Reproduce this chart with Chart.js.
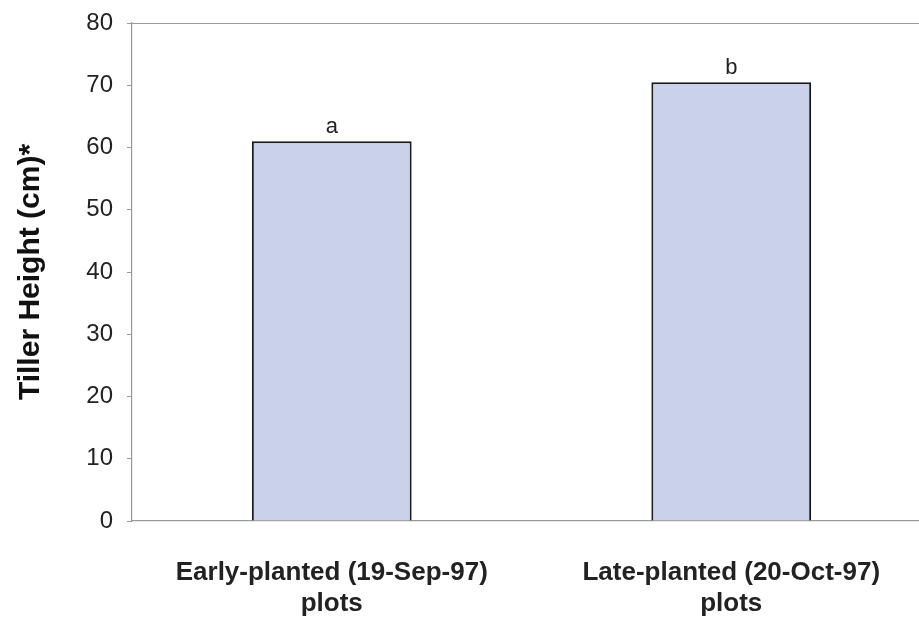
<!DOCTYPE html>
<html>
<head>
<meta charset="utf-8">
<script src="https://cdn.jsdelivr.net/npm/chart.js@4/dist/chart.umd.min.js"></script>
<style>
  html, body { margin: 0; padding: 0; background: #fff; overflow: hidden; }
  #wrap { width: 931px; height: 619px; position: relative; }
</style>
</head>
<body>
<div id="wrap"><canvas id="myChart"></canvas></div>
<script>
const categories = [
  ["Early-planted (19-Sep-97)", "plots"],
  ["Late-planted (20-Oct-97)", "plots"],
];
const heights = [61, 70.5];
const letters = ["a", "b"];
const yTicks = [0, 10, 20, 30, 40, 50, 60, 70, 80];

// letters above bars + top frame line
const extras = {
  id: "extras",
  afterDatasetsDraw(chart) {
    const ctx = chart.ctx;
    const area = chart.chartArea;
    ctx.save();
    ctx.strokeStyle = "#9a9a9a";
    ctx.lineWidth = 1.2;
    ctx.beginPath();
    ctx.moveTo(area.left, area.top + 0.5);
    ctx.lineTo(area.right, area.top + 0.5);
    ctx.stroke();

    ctx.fillStyle = "#222";
    ctx.font = "22px 'Liberation Sans', Arial, sans-serif";
    ctx.textAlign = "center";
    ctx.textBaseline = "bottom";
    chart.getDatasetMeta(0).data.forEach((bar, i) => {
      ctx.fillText(letters[i], bar.x, bar.y - 3);
    });
    ctx.restore();
  },
};

const ctx = document.getElementById("myChart");

const myChart = new Chart(ctx, {
  type: "bar",
  data: {
    labels: categories,
    datasets: [
      {
        data: heights,
        backgroundColor: "#cad2eb",
        borderColor: "#1a1a1a",
        borderWidth: 2,
        barPercentage: 0.4,
        categoryPercentage: 1,
      },
    ],
  },
  options: {
    responsive: true,
    maintainAspectRatio: false,
    animation: false,
    layout: { padding: { top: 23, left: 0, right: 0, bottom: 0 } },
    plugins: {
      legend: { display: false },
      tooltip: { enabled: false },
    },
    scales: {
      x: {
        grid: { display: false },
        border: { display: true, color: "#9a9a9a", width: 1.2 },
        ticks: {
          color: "#222",
          font: { family: "'Liberation Sans', Arial, sans-serif", size: 26, weight: "bold" },
          padding: 28,
          maxRotation: 0,
        },
        afterFit(scale) {
          scale.height = 98;
        },
      },
      y: {
        min: 0,
        max: 80,
        afterBuildTicks(scale) {
          scale.ticks = yTicks.map((v) => ({ value: v }));
        },
        grid: {
          drawOnChartArea: false,
          drawTicks: true,
          tickLength: 5,
          color: "#9a9a9a",
        },
        border: { display: true, color: "#9a9a9a", width: 1.2 },
        ticks: {
          color: "#222",
          font: { family: "'Liberation Sans', Arial, sans-serif", size: 24 },
          padding: 14,
        },
        title: {
          display: true,
          text: "Tiller Height (cm)*",
          color: "#111",
          font: { family: "'Liberation Sans', Arial, sans-serif", size: 30, weight: "bold" },
          padding: { top: 13, bottom: 0 },
        },
        afterFit(scale) {
          scale.width = 132;
          scale.paddingTop = 0;
          scale.paddingBottom = 0;
        },
      },
    },
  },
  plugins: [extras],
});
</script>
</body>
</html>
